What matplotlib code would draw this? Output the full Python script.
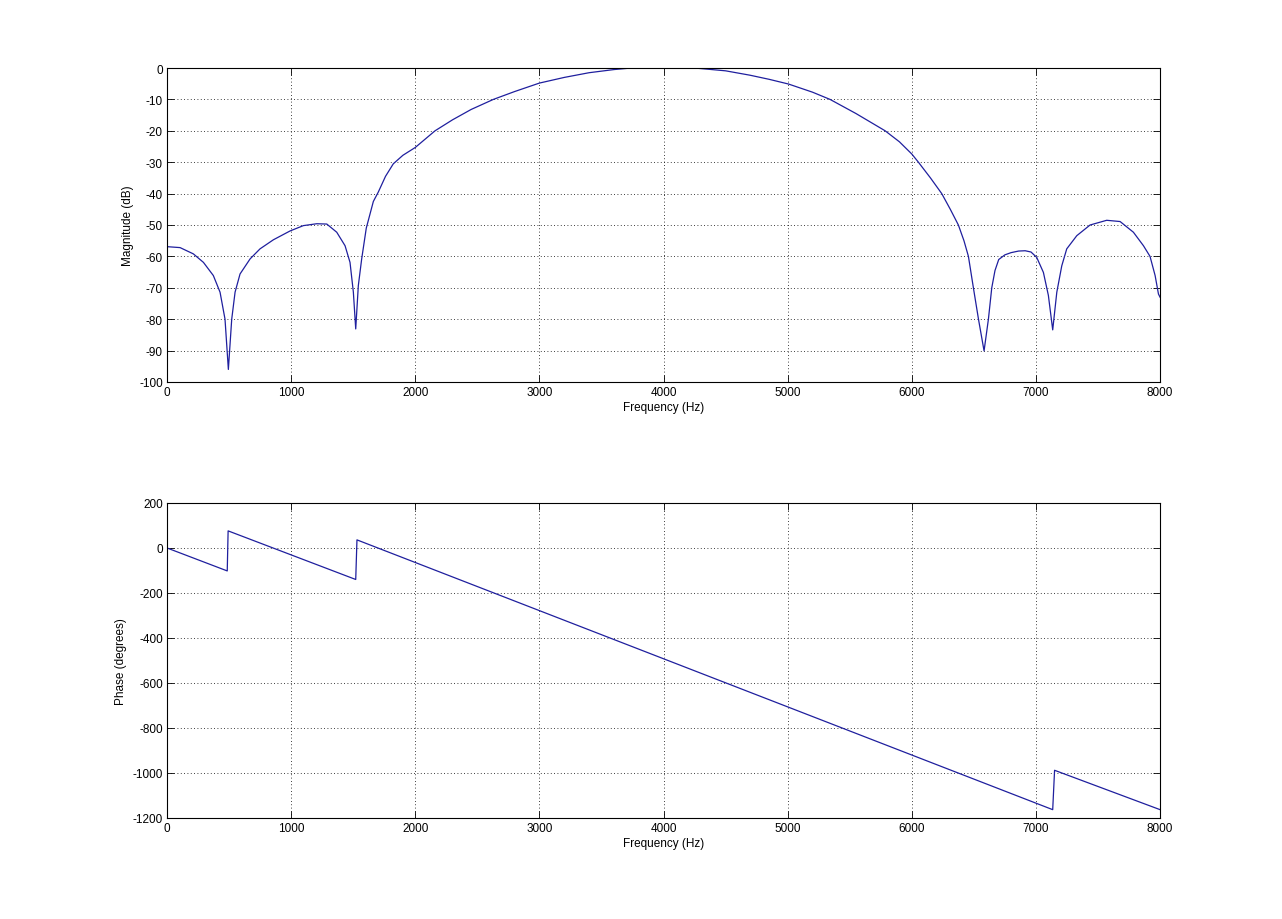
import numpy as np
import matplotlib
matplotlib.use("Agg")
import matplotlib.pyplot as plt

# magnitude response (Hz, dB)
mag_freq = [0, 105, 212, 293, 373, 427, 467, 494, 521, 548, 588, 669, 749, 857, 991,
            1098, 1206, 1287, 1367, 1434, 1474, 1501, 1520, 1541, 1568, 1605, 1662, 1702,
            1760, 1823, 1900, 2000, 2159, 2300, 2450, 2629, 2800, 3000, 3200, 3400, 3600,
            3740, 3850, 4000, 4150, 4250, 4500, 4697, 4850, 5006, 5200, 5341, 5550, 5785,
            5900, 6000, 6053, 6150, 6241, 6310, 6375, 6420, 6456, 6496, 6537, 6582, 6617,
            6644, 6670, 6700, 6750, 6800, 6860, 6913, 6960, 7006, 7060, 7100, 7135, 7168,
            7208, 7248, 7329, 7436, 7570, 7678, 7785, 7866, 7919, 7960, 7987, 8000]
mag_db = [-56.9, -57.2, -59.2, -61.9, -66.1, -71.4, -80.0, -96.0, -80.0, -71.4, -65.6,
          -60.8, -57.6, -54.7, -51.9, -50.2, -49.6, -49.7, -52.3, -56.6, -61.9, -71.4,
          -83.1, -69.3, -60.8, -51.0, -42.5, -39.5, -34.5, -30.5, -27.8, -25.3, -20.0,
          -16.5, -13.2, -10.0, -7.5, -4.8, -3.0, -1.5, -0.5, 0.0, 0.1, 0.15, 0.1, 0.0,
          -0.9, -2.3, -3.6, -5.1, -7.7, -10.0, -14.5, -20.0, -23.5, -27.4, -30.0, -35.0,
          -40.0, -45.0, -50.0, -55.0, -60.0, -70.0, -80.0, -90.1, -80.0, -70.0, -64.5,
          -61.0, -59.5, -58.8, -58.3, -58.2, -58.6, -60.3, -65.1, -72.4, -83.4, -71.4,
          -63.0, -57.6, -53.4, -50.0, -48.5, -48.9, -52.3, -56.6, -60.0, -66.1, -72.0,
          -73.0]

# phase response (Hz, degrees)
ph_freq = [0, 485, 492, 1520, 1530, 7135, 7150, 8000]
ph_deg = [0, -102, 76, -140, 36, -1163, -988, -1163]

line_col = (0.12, 0.12, 0.62)
plt.rcParams['font.family'] = ['Liberation Sans', 'DejaVu Sans']
plt.rcParams['font.size'] = 8.5
plt.rcParams['axes.unicode_minus'] = False

fig = plt.figure(figsize=(12.82, 9.2), dpi=100)
ax1 = fig.add_axes([0.1303, 0.5837, 0.7746, 0.3413])
ax2 = fig.add_axes([0.1303, 0.1098, 0.7746, 0.3424])

ax1.plot(mag_freq, mag_db, color=line_col, lw=0.9)
ax1.set_ylim(-100, 0)
ax1.set_yticks(np.arange(-100, 1, 10))
ax1.set_ylabel('Magnitude (dB)')

ax2.plot(ph_freq, ph_deg, color=line_col, lw=0.9)
ax2.set_ylim(-1200, 200)
ax2.set_yticks(np.arange(-1200, 201, 200))
ax2.set_ylabel('Phase (degrees)')

for ax in (ax1, ax2):
    ax.set_xlim(0, 8000)
    ax.set_xticks(np.arange(0, 8001, 1000))
    ax.set_xlabel('Frequency (Hz)', labelpad=2)
    ax.grid(True, color='black', linestyle=(0, (1, 3)), linewidth=0.6)
    ax.tick_params(direction='in', top=True, right=True, length=5, width=0.6, pad=3)
    for s in ax.spines.values():
        s.set_linewidth(0.8)

fig.savefig('out.png', dpi=100)
